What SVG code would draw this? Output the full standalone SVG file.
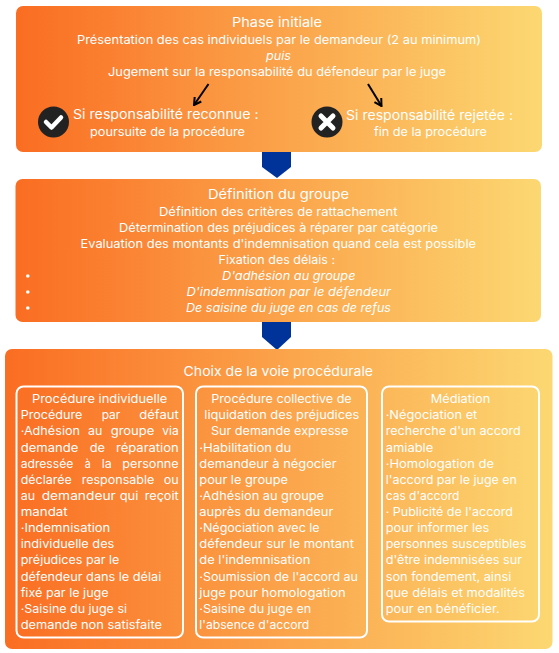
<svg xmlns="http://www.w3.org/2000/svg" width="559" height="653" viewBox="0 0 559 653">
<style>
text{font-family:"Inter","Liberation Sans",sans-serif;fill:#fff;font-size:11.5px}
.h{font-size:13px}
.i{font-style:italic}
.sub{fill:none;stroke:#fff;stroke-width:2}
.arr{fill:none;stroke:#000;stroke-width:2;marker-end:url(#open)}
.pent{fill:#003399}
</style>
<defs>
<linearGradient id="g" x1="0" y1="0" x2="1" y2="0"><stop offset="0" stop-color="#fa6d22"/><stop offset="1" stop-color="#fcd872"/></linearGradient>
<marker id="open" viewBox="0 0 10 10" refX="9" refY="5" markerWidth="5" markerHeight="5" orient="auto"><path d="M2 1L9 5L2 9" fill="none" stroke="#000" stroke-width="2"/></marker>
</defs>
<g id="connectors">
<polygon class="pent" points="262,151 291,151 291,167 277,178 262,167"/>
<polygon class="pent" points="262,321 291,321 291,337 277,350 262,337"/>
</g>
<g id="phase-initiale">
<rect x="16" y="6" width="526" height="146" rx="7" fill="url(#g)"/>
<text class="h" x="232" y="27" textLength="90" lengthAdjust="spacingAndGlyphs">Phase initiale</text>
<text x="77" y="44" textLength="404" lengthAdjust="spacingAndGlyphs">Présentation des cas individuels par le demandeur (2 au minimum)</text>
<text class="i" x="266" y="60" textLength="25" lengthAdjust="spacingAndGlyphs">puis</text>
<text x="108" y="76" textLength="338" lengthAdjust="spacingAndGlyphs">Jugement sur la responsabilité du défendeur par le juge</text>
<path class="arr" d="M208.5 84L194 105"/>
<path class="arr" d="M368 84L381.5 106"/>
<circle cx="53.5" cy="122" r="15.5" fill="#222"/>
<path d="M46 122L51.5 127.5L61 117.5" fill="none" stroke="#fff" stroke-width="4.5" stroke-linejoin="round" stroke-linecap="round"/>
<text class="h" x="73" y="119" textLength="185.500" lengthAdjust="spacingAndGlyphs">Si responsabilité reconnue :</text>
<text x="90" y="136" textLength="155" lengthAdjust="spacingAndGlyphs">poursuite de la procédure</text>
<circle cx="327" cy="122" r="15.500" fill="#222"/>
<path d="M321 116L333 128M333 116L321 128" fill="none" stroke="#fff" stroke-width="5" stroke-linecap="round"/>
<text class="h" x="346" y="120" textLength="167" lengthAdjust="spacingAndGlyphs">Si responsabilité rejetée :</text>
<text x="374" y="136" textLength="113" lengthAdjust="spacingAndGlyphs">fin de la procédure</text>
</g>
<g id="definition-groupe">
<rect x="15.500" y="179" width="525.500" height="143" rx="7" fill="url(#g)"/>
<text class="h" x="208" y="199" textLength="141" lengthAdjust="spacingAndGlyphs">Définition du groupe</text>
<text x="159" y="216" textLength="238.500" lengthAdjust="spacingAndGlyphs">Définition des critères de rattachement</text>
<text x="119" y="232" textLength="319" lengthAdjust="spacingAndGlyphs">Détermination des préjudices à réparer par catégorie</text>
<text x="80.500" y="248" textLength="395.500" lengthAdjust="spacingAndGlyphs">Evaluation des montants d'indemnisation quand cela est possible</text>
<text x="218.500" y="264" textLength="116.500" lengthAdjust="spacingAndGlyphs">Fixation des délais :</text>
<circle cx="27.800" cy="276" r="1.800" fill="#fff"/>
<circle cx="27.800" cy="292" r="1.800" fill="#fff"/>
<circle cx="27.800" cy="308" r="1.800" fill="#fff"/>
<text class="i" x="222" y="280" textLength="133.500" lengthAdjust="spacingAndGlyphs">D'adhésion au groupe</text>
<text class="i" x="186.500" y="296" textLength="204.500" lengthAdjust="spacingAndGlyphs">D'indemnisation par le défendeur</text>
<text class="i" x="186" y="312" textLength="205" lengthAdjust="spacingAndGlyphs">De saisine du juge en cas de refus</text>
</g>
<g id="choix-voie">
<rect x="5" y="349" width="547.500" height="300" rx="7" fill="url(#g)"/>
<text class="h" x="183.600" y="376" textLength="189.400" lengthAdjust="spacingAndGlyphs">Choix de la voie procédurale</text>
</g>
<g id="procedure-individuelle">
<rect class="sub" x="16.500" y="386.500" width="166.500" height="251" rx="7"/>
<text x="32" y="403" textLength="135.300" lengthAdjust="spacingAndGlyphs">Procédure individuelle</text>
<text y="419"><tspan x="20.700" textLength="61.700" lengthAdjust="spacingAndGlyphs">Procédure</tspan> <tspan x="101.700" textLength="18.600" lengthAdjust="spacingAndGlyphs">par</tspan> <tspan x="139.300" textLength="39.400" lengthAdjust="spacingAndGlyphs">défaut</tspan></text>
<text y="435"><tspan x="20.700" textLength="59.300" lengthAdjust="spacingAndGlyphs">·Adhésion</tspan> <tspan x="88" textLength="14.300" lengthAdjust="spacingAndGlyphs">au</tspan> <tspan x="110.700" textLength="43.600" lengthAdjust="spacingAndGlyphs">groupe</tspan> <tspan x="162.300" textLength="16.400" lengthAdjust="spacingAndGlyphs">via</tspan></text>
<text y="452"><tspan x="20.700" textLength="57.600" lengthAdjust="spacingAndGlyphs">demande</tspan> <tspan x="89.700" textLength="15.300" lengthAdjust="spacingAndGlyphs">de</tspan> <tspan x="116" textLength="62.700" lengthAdjust="spacingAndGlyphs">réparation</tspan></text>
<text y="468"><tspan x="20.700" textLength="52.600" lengthAdjust="spacingAndGlyphs">adressée</tspan> <tspan x="84.700" textLength="6" lengthAdjust="spacingAndGlyphs">à</tspan> <tspan x="101.700" textLength="10" lengthAdjust="spacingAndGlyphs">la</tspan> <tspan x="122.300" textLength="56.400" lengthAdjust="spacingAndGlyphs">personne</tspan></text>
<text y="484"><tspan x="20.700" textLength="51" lengthAdjust="spacingAndGlyphs">déclarée</tspan> <tspan x="81.700" textLength="72.600" lengthAdjust="spacingAndGlyphs">responsable</tspan> <tspan x="163.700" textLength="15" lengthAdjust="spacingAndGlyphs">ou</tspan></text>
<text y="500"><tspan x="20.700" textLength="14.300" lengthAdjust="spacingAndGlyphs">au</tspan> <tspan x="41.700" textLength="74" lengthAdjust="spacingAndGlyphs">demandeur</tspan> <tspan x="119.700" textLength="18.600" lengthAdjust="spacingAndGlyphs">qui</tspan> <tspan x="144.700" textLength="34" lengthAdjust="spacingAndGlyphs">reçoit</tspan></text>
<text x="20.700" y="516" textLength="47" lengthAdjust="spacingAndGlyphs">mandat</text>
<text x="20.700" y="532" textLength="89.600" lengthAdjust="spacingAndGlyphs">·Indemnisation</text>
<text x="20.700" y="548" textLength="93.600" lengthAdjust="spacingAndGlyphs">individuelle des</text>
<text x="20.700" y="564" textLength="98.600" lengthAdjust="spacingAndGlyphs">préjudices par le</text>
<text x="20.700" y="581" textLength="140.600" lengthAdjust="spacingAndGlyphs">défendeur dans le délai</text>
<text x="20.700" y="597" textLength="88" lengthAdjust="spacingAndGlyphs">fixé par le juge</text>
<text x="20.700" y="613" textLength="106.300" lengthAdjust="spacingAndGlyphs">·Saisine du juge si</text>
<text x="20.700" y="629" textLength="141.300" lengthAdjust="spacingAndGlyphs">demande non satisfaite</text>
</g>
<g id="procedure-collective">
<rect class="sub" x="196" y="386.500" width="171" height="251" rx="7"/>
<text x="211.300" y="403" textLength="140.400" lengthAdjust="spacingAndGlyphs">Procédure collective de</text>
<text x="204.300" y="419" textLength="155" lengthAdjust="spacingAndGlyphs">liquidation des préjudices</text>
<text x="211" y="435" textLength="137.300" lengthAdjust="spacingAndGlyphs">Sur demande expresse</text>
<text x="199.300" y="452" textLength="92" lengthAdjust="spacingAndGlyphs">·Habilitation du</text>
<text x="199.300" y="468" textLength="137.400" lengthAdjust="spacingAndGlyphs">demandeur à négocier</text>
<text x="199.300" y="484" textLength="88.700" lengthAdjust="spacingAndGlyphs">pour le groupe</text>
<text x="199.300" y="500" textLength="124.700" lengthAdjust="spacingAndGlyphs">·Adhésion au groupe</text>
<text x="199.300" y="516" textLength="134" lengthAdjust="spacingAndGlyphs">auprès du demandeur</text>
<text x="199.300" y="532" textLength="120.400" lengthAdjust="spacingAndGlyphs">·Négociation avec le</text>
<text x="199.300" y="548" textLength="154.700" lengthAdjust="spacingAndGlyphs">défendeur sur le montant</text>
<text x="199.300" y="564" textLength="111" lengthAdjust="spacingAndGlyphs">de l'indemnisation</text>
<text x="199.300" y="581" textLength="158.700" lengthAdjust="spacingAndGlyphs">·Soumission de l'accord au</text>
<text x="199.300" y="597" textLength="146.400" lengthAdjust="spacingAndGlyphs">juge pour homologation</text>
<text x="199.300" y="613" textLength="112" lengthAdjust="spacingAndGlyphs">·Saisine du juge en</text>
<text x="199.300" y="629" textLength="110" lengthAdjust="spacingAndGlyphs">l'absence d'accord</text>
</g>
<g id="mediation">
<rect class="sub" x="382" y="386.500" width="157" height="235" rx="7"/>
<text x="430.700" y="403" textLength="59.600" lengthAdjust="spacingAndGlyphs">Médiation</text>
<text x="385.700" y="419" textLength="91.600" lengthAdjust="spacingAndGlyphs">·Négociation et</text>
<text x="385.700" y="435" textLength="135" lengthAdjust="spacingAndGlyphs">recherche d'un accord</text>
<text x="385.700" y="452" textLength="47.600" lengthAdjust="spacingAndGlyphs">amiable</text>
<text x="385.700" y="468" textLength="108.300" lengthAdjust="spacingAndGlyphs">·Homologation de</text>
<text x="385.700" y="484" textLength="131.300" lengthAdjust="spacingAndGlyphs">l'accord par le juge en</text>
<text x="385.700" y="500" textLength="73.600" lengthAdjust="spacingAndGlyphs">cas d'accord</text>
<text x="385.700" y="516" textLength="127.300" lengthAdjust="spacingAndGlyphs">· Publicité de l'accord</text>
<text x="385.700" y="532" textLength="103.600" lengthAdjust="spacingAndGlyphs">pour informer les</text>
<text x="385.700" y="548" textLength="140.600" lengthAdjust="spacingAndGlyphs">personnes susceptibles</text>
<text x="385.700" y="564" textLength="136.300" lengthAdjust="spacingAndGlyphs">d'être indemnisées sur</text>
<text x="385.700" y="581" textLength="125.600" lengthAdjust="spacingAndGlyphs">son fondement, ainsi</text>
<text x="385.700" y="597" textLength="139.300" lengthAdjust="spacingAndGlyphs">que délais et modalités</text>
<text x="385.700" y="613" textLength="114" lengthAdjust="spacingAndGlyphs">pour en bénéficier.</text>
</g>
</svg>
